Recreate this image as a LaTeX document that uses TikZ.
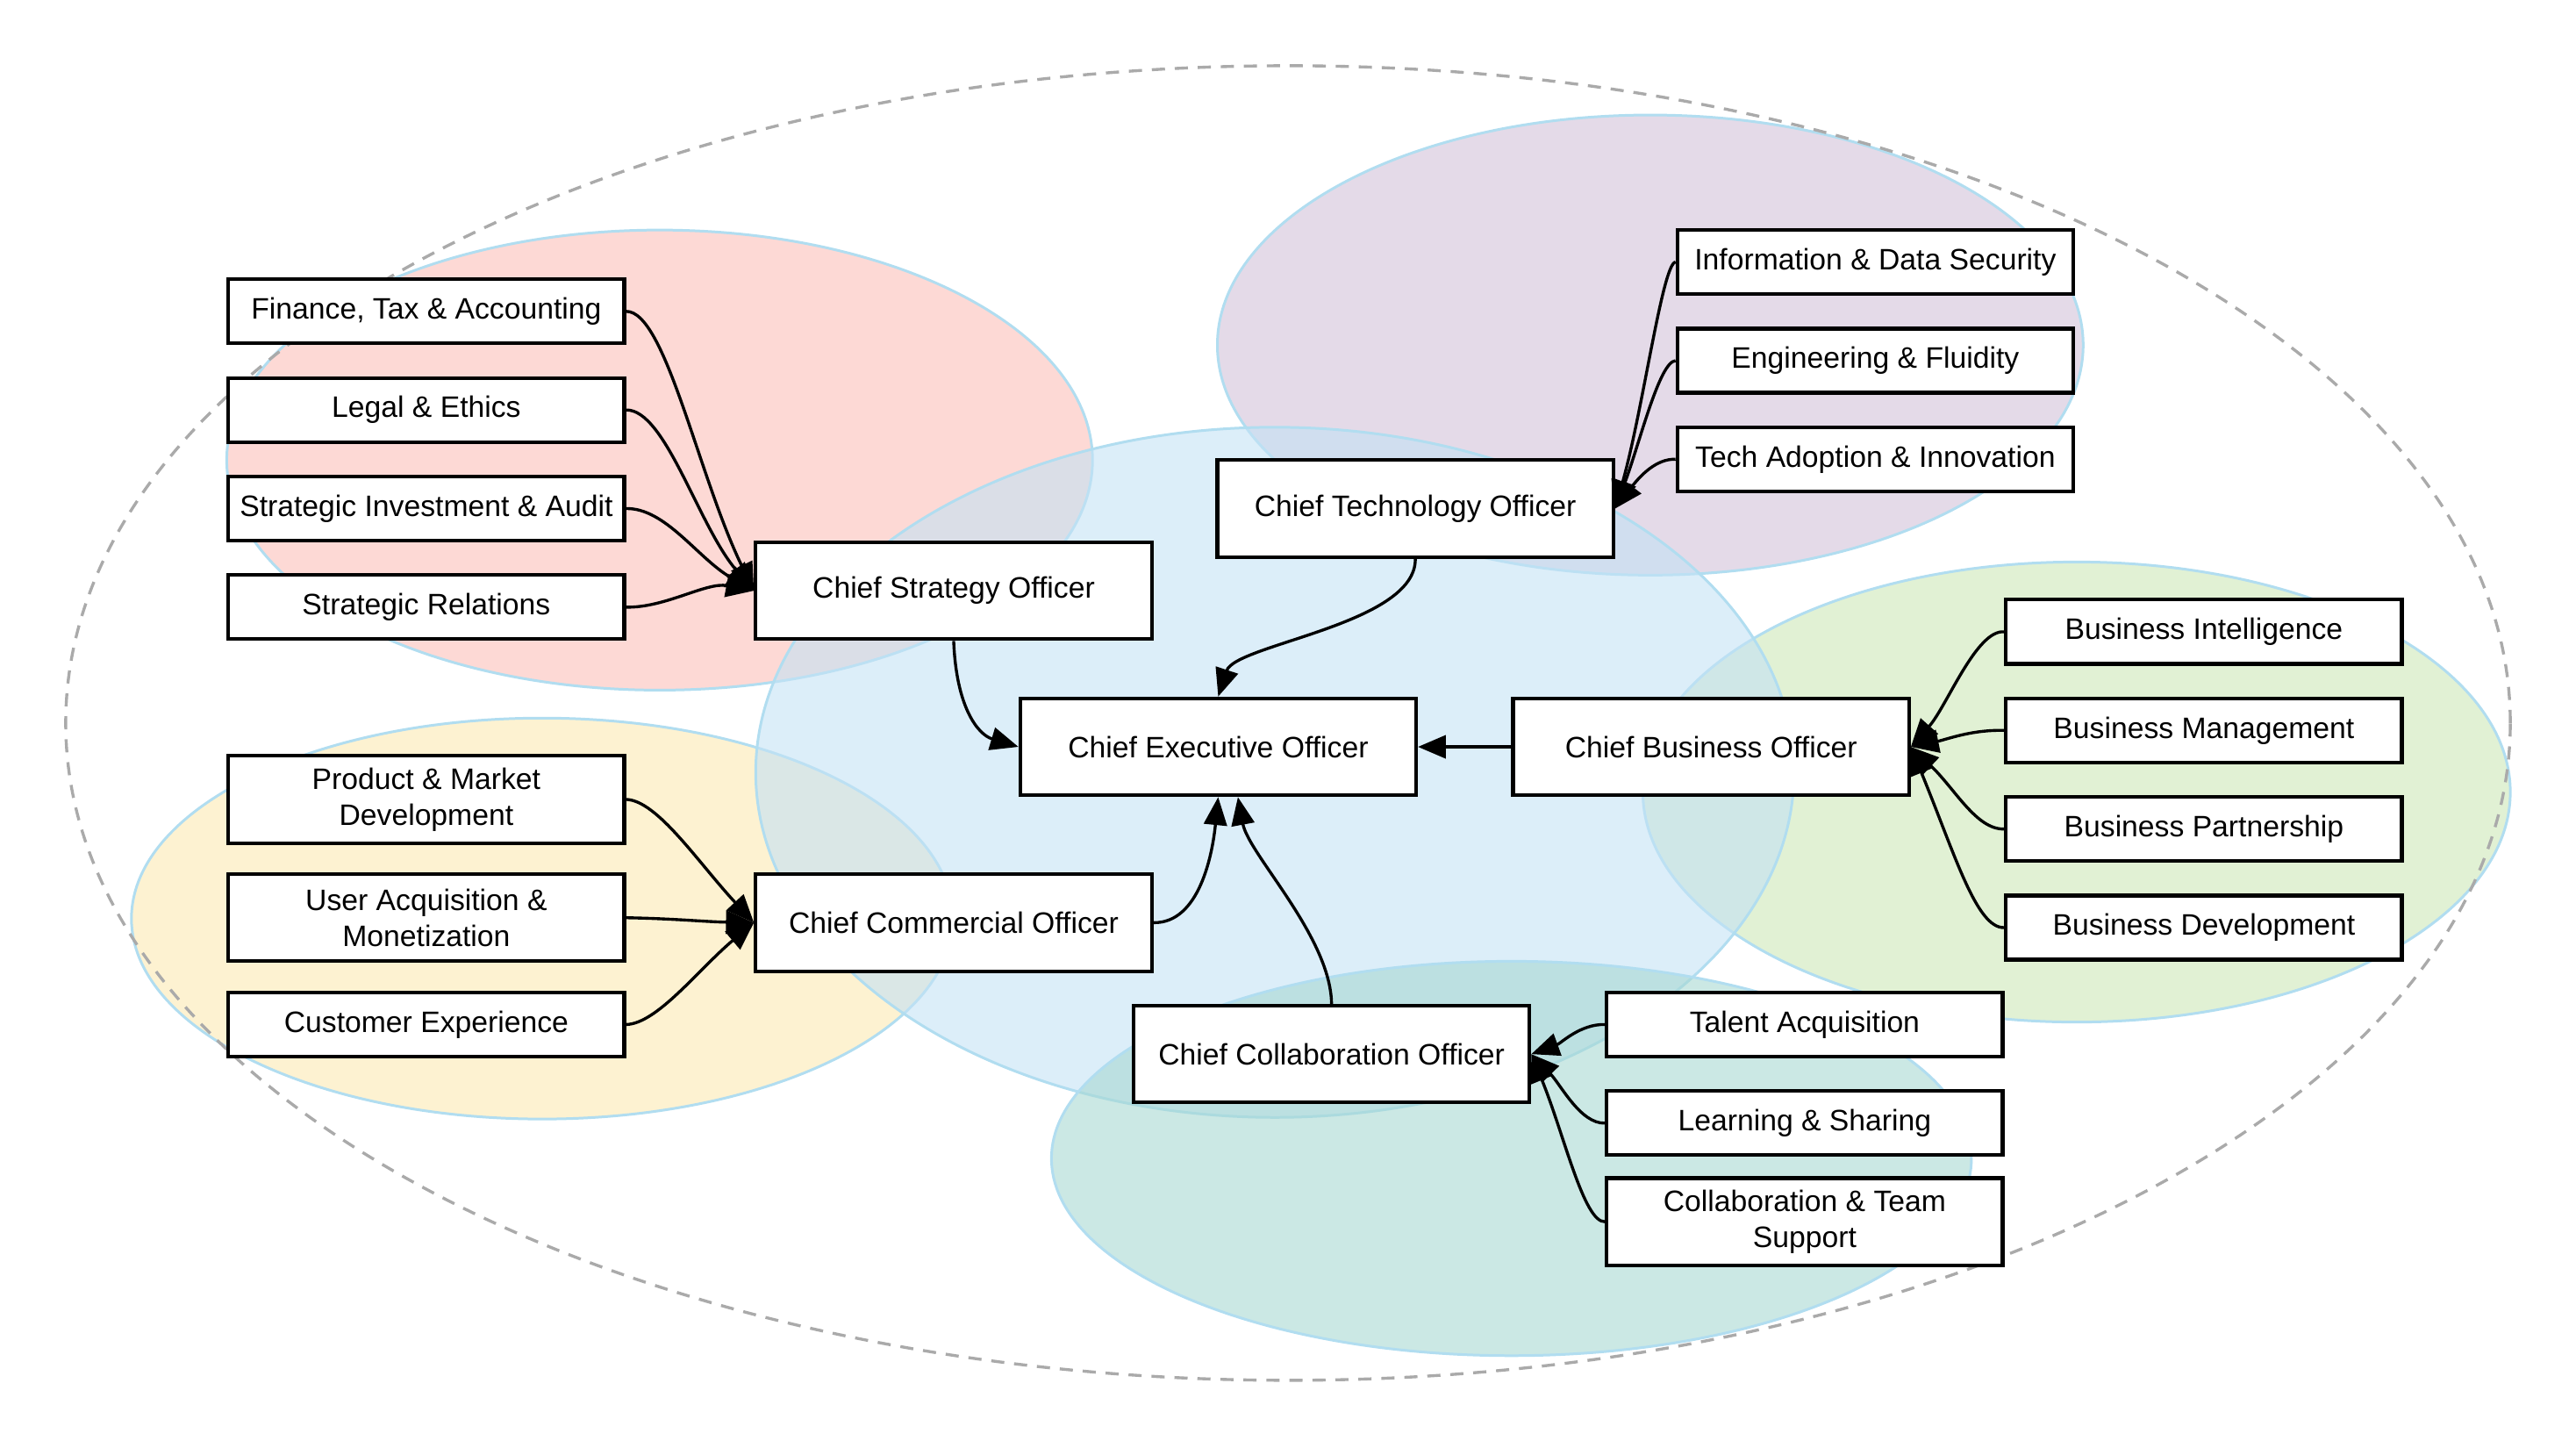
\documentclass[tikz,border=0pt]{standalone}
\usepackage{fontspec}
\setmainfont{Liberation Sans}
\usetikzlibrary{arrows.meta}
\definecolor{zoneline}{RGB}{177,221,240}
\definecolor{zred}{RGB}{251,192,185}
\definecolor{zpurple}{RGB}{210,194,216}
\definecolor{zblue}{RGB}{196,226,245}
\definecolor{zgreen}{RGB}{205,232,184}
\definecolor{zyellow}{RGB}{252,233,178}
\definecolor{zteal}{RGB}{168,216,210}
\definecolor{dashgray}{RGB}{170,170,170}
\begin{document}
\begin{tikzpicture}[x=0.5pt,y=-0.5pt,
  box/.style={draw=black, line width=1.1pt, fill=white, minimum width=120.5pt,
    minimum height=19.5pt, inner sep=0pt, font=\fontsize{9}{11}\selectfont, align=center},
  chief/.style={box, minimum height=29.5pt},
  twoline/.style={box, minimum height=26.5pt},
  conn/.style={line width=0.9pt, draw=black, -{Triangle[length=8.5pt,width=7pt]}},
  zone/.style={draw=zoneline, line width=0.8pt, fill opacity=0.6, draw opacity=1},
]
\useasboundingbox (0,0) rectangle (1568,881);

% zones
\path[zone, fill=zred] (401.5,280) ellipse [x radius=131.75pt, y radius=70pt];
\path[zone, fill=zpurple] (1004.5,210) ellipse [x radius=131.75pt, y radius=70pt];
\path[zone, fill=zyellow] (330,559) ellipse [x radius=125pt, y radius=61pt];
\path[zone, fill=zgreen] (1264,482) ellipse [x radius=132pt, y radius=70pt];
\path[zone, fill=zblue] (776,470) ellipse [x radius=158pt, y radius=105pt];
\path[zone, fill=zteal] (920,705) ellipse [x radius=140pt, y radius=60pt];

% outer dashed ellipse
\draw[dashgray, line width=0.9pt, dash pattern=on 4pt off 3pt] (784,440) ellipse [x radius=372pt, y radius=200pt];

% nodes
\node[chief] (ceo) at (741.5,454.5) {Chief Executive Officer};
\node[chief] (cso) at (580.5,359.5) {Chief Strategy Officer};
\node[chief] (cto) at (861.5,309.5) {Chief Technology Officer};
\node[chief] (cbo) at (1041.5,454.5) {Chief Business Officer};
\node[chief] (cco) at (580.5,561.5) {Chief Commercial Officer};
\node[chief] (ccol) at (810.5,641.5) {Chief Collaboration Officer};

\node[box] (fin) at (259.5,189.5) {Finance, Tax \& Accounting};
\node[box] (leg) at (259.5,249.5) {Legal \& Ethics};
\node[box] (sia) at (259.5,309.5) {Strategic Investment \& Audit};
\node[box] (srel) at (259.5,369.5) {Strategic Relations};

\node[box] (info) at (1141.5,159.5) {Information \& Data Security};
\node[box] (eng) at (1141.5,219.5) {Engineering \& Fluidity};
\node[box] (tech) at (1141.5,279.5) {Tech Adoption \& Innovation};

\node[box] (bi) at (1341.5,384.5) {Business Intelligence};
\node[box] (bm) at (1341.5,444.5) {Business Management};
\node[box] (bp) at (1341.5,504.5) {Business Partnership};
\node[box] (bd) at (1341.5,564.5) {Business Development};

\node[twoline] (pmd) at (259.5,486.5) {Product \& Market\\Development};
\node[twoline] (uam) at (259.5,558.5) {User Acquisition \&\\Monetization};
\node[box] (cx) at (259.5,623.5) {Customer Experience};

\node[box] (tal) at (1098.5,623.5) {Talent Acquisition};
\node[box] (lrn) at (1098.5,683.5) {Learning \& Sharing};
\node[twoline] (cts) at (1098.5,743.5) {Collaboration \& Team\\Support};

% strategy group
\draw[conn] (fin.east) .. controls (405,189) and (425,290) .. (cso.west);
\draw[conn] (leg.east) .. controls (405,249) and (425,320) .. (cso.west);
\draw[conn] (sia.east) .. controls (405,309) and (425,340) .. (cso.west);
\draw[conn] (srel.east) .. controls (405,370) and (430,354) .. (cso.west);

% technology group
\draw[conn] (info.west) .. controls (1012,160) and (1000,250) .. (cto.east);
\draw[conn] (eng.west) .. controls (1010,220) and (998,270) .. (cto.east);
\draw[conn] (tech.west) .. controls (1008,279) and (998,290) .. (cto.east);

% business group
\draw[conn] (bi.west) .. controls (1203,383) and (1185,430) .. (cbo.east);
\draw[conn] (bm.west) .. controls (1200,444) and (1185,450) .. (cbo.east);
\draw[conn] (bp.west) .. controls (1203,505) and (1190,480) .. (cbo.east);
\draw[conn] (bd.west) .. controls (1203,565) and (1190,520) .. (cbo.east);

% commercial group
\draw[conn] (pmd.east) .. controls (400,487) and (425,525) .. (cco.west);
\draw[conn] (uam.east) .. controls (410,559) and (430,561) .. (cco.west);
\draw[conn] (cx.east) .. controls (400,623) and (425,590) .. (cco.west);

% collaboration group
\draw[conn] (tal.west) .. controls (962,623) and (950,635) .. (ccol.east);
\draw[conn] (lrn.west) .. controls (962,684) and (950,660) .. (ccol.east);
\draw[conn] (cts.west) .. controls (964,744) and (952,690) .. (ccol.east);

% officers to CEO
\draw[conn] (cso.south) .. controls (582,430) and (595,447) .. (ceo.west);
\draw[conn] (cto.south) .. controls (862,380) and (752,392) .. (ceo.north);
\draw[conn] (cbo.west) -- (ceo.east);
\draw[conn] (cco.east) .. controls (730,562) and (738,520) .. (ceo.south);
\coordinate (ceob) at ([xshift=6pt]ceo.south);
\draw[conn] (ccol.north) .. controls (810,570) and (760,520) .. (ceob);
\end{tikzpicture}
\end{document}
